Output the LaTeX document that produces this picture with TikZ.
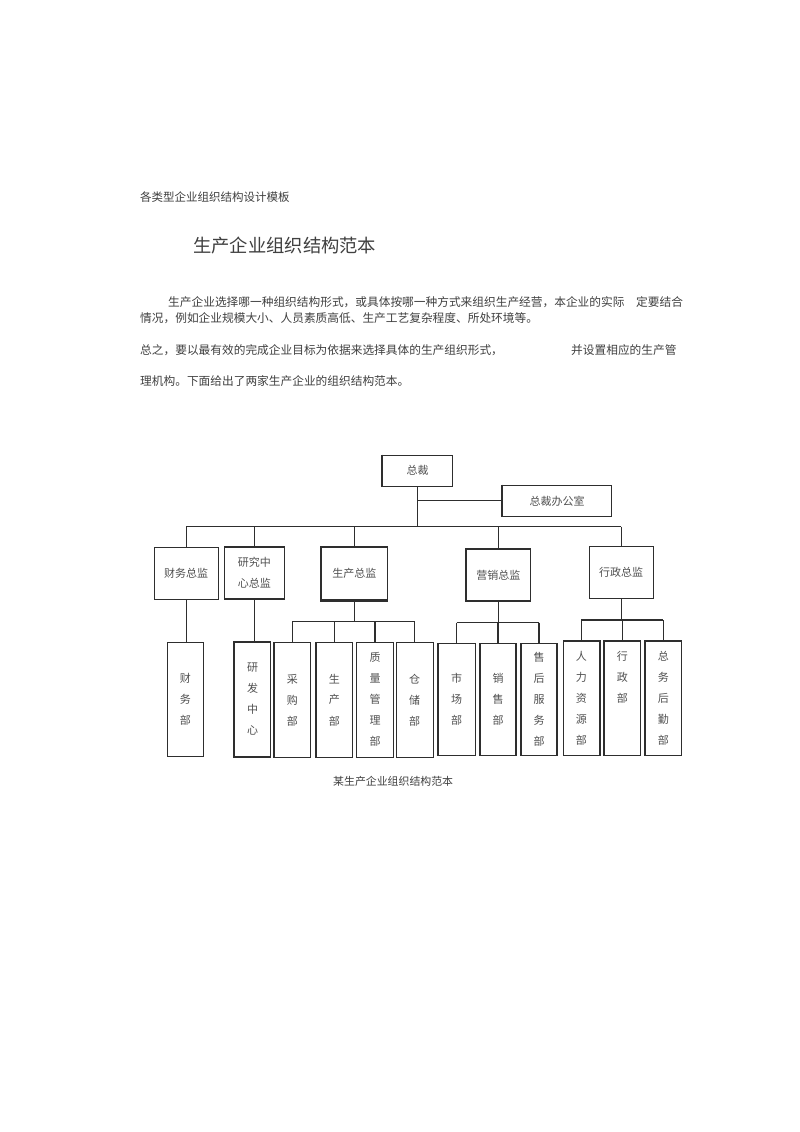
\documentclass[tikz,border=0pt]{standalone}
\usepackage{fontspec}
\newfontfamily\cjk{Noto Sans CJK SC}
\definecolor{linec}{HTML}{2E2E2E}
\definecolor{textc}{HTML}{404040}
\definecolor{boxtextc}{HTML}{505050}
\newcommand\orgfont{\cjk\fontsize{11}{21}\selectfont}
\newcommand\bodyfont{\cjk\fontsize{11.7}{11.7}\selectfont}
\tikzset{
  orgbox/.style={draw=linec, line width=1.1pt, inner sep=0pt, font=\orgfont, text=boxtextc, align=center},
  conn/.style={draw=linec, line width=1.1pt},
  thickedge/.style={draw=linec, line width=2.2pt},
  bodytext/.style={anchor=west, inner sep=0pt, font=\bodyfont, text=textc}
}
\begin{document}
\begin{tikzpicture}[x=1pt, y=-1pt]
\useasboundingbox[fill=white] (0,0) rectangle (800,1132);

% ---- header texts ----
\node[bodytext, font=\cjk\fontsize{11.5}{11.5}\selectfont] (hdr) at (140,197) {各类型企业组织结构设计模板};
\node[bodytext, font=\cjk\fontsize{18.3}{18.3}\selectfont] (title) at (193,246) {生产企业组织结构范本};
\node[bodytext] (p1) at (168,302) {生产企业选择哪一种组织结构形式，或具体按哪一种方式来组织生产经营，本企业的实际　定要结合};
\node[bodytext] (p2) at (140,318) {情况，例如企业规模大小、人员素质高低、生产工艺复杂程度、所处环境等。};
\node[bodytext] (p3a) at (140,350) {总之，要以最有效的完成企业目标为依据来选择具体的生产组织形式，};
\node[bodytext] (p3b) at (571,350) {并设置相应的生产管};
\node[bodytext] (p4) at (140,381) {理机构。下面给出了两家生产企业的组织结构范本。};

% ---- top level ----
\node[orgbox, minimum width=70.4, minimum height=31.3] (zc) at (417.5,470.7) {总裁};
\node[orgbox, minimum width=109, minimum height=31.7] (zb) at (557.2,500.9) {总裁办公室};

% ---- directors ----
\node[orgbox, minimum width=64.3, minimum height=52] (cw) at (186.2,573.3) {财务总监};
\node[orgbox, minimum width=60, minimum height=52] (yj) at (254.3,573) {研究中\\心总监};
\node[orgbox, minimum width=66.7, minimum height=52.3] (sc) at (354.3,573.8) {生产总监};
\node[orgbox, minimum width=64.7, minimum height=52] (yx) at (498.3,575) {营销总监};
\node[orgbox, minimum width=64.3, minimum height=52.3] (xz) at (621.2,572.2) {行政总监};

% ---- departments ----
\node[orgbox, minimum width=36, minimum height=114.4] (cwb) at (185.3,699.5) {财\\务\\部};
\node[orgbox, minimum width=36.4, minimum height=115] (yfb) at (252.5,699.5) {研\\发\\中\\心};
\node[orgbox, minimum width=36.7, minimum height=115] (cg) at (292.3,700.2) {采\\购\\部};
\node[orgbox, minimum width=36.7, minimum height=114.5] (scb) at (334.3,699.8) {生\\产\\部};
\node[orgbox, minimum width=36.6, minimum height=114.5] (zl) at (375,699.8) {质\\量\\管\\理\\部};
\node[orgbox, minimum width=37.3, minimum height=115] (cc) at (414.7,700) {仓\\储\\部};
\node[orgbox, minimum width=36.7, minimum height=112] (sh) at (456.7,699.7) {市\\场\\部};
\node[orgbox, minimum width=36, minimum height=112] (xs) at (498,699.7) {销\\售\\部};
\node[orgbox, minimum width=36, minimum height=112] (sfw) at (539,699.7) {售\\后\\服\\务\\部};
\node[orgbox, minimum width=36, minimum height=114.7] (rl) at (581.3,698.3) {人\\力\\资\\源\\部};
\node[orgbox, minimum width=36.7, minimum height=114.7] (xzb) at (622.3,698.3) {行\\政\\部\\~\\~};
\node[orgbox, minimum width=36.7, minimum height=114.7] (zw) at (663.3,698.3) {总\\务\\后\\勤\\部};

% ---- caption ----
\node[bodytext, font=\cjk\fontsize{10.9}{10.9}\selectfont] (cap) at (333,781) {某生产企业组织结构范本};

% ---- bus coordinates ----
\coordinate (bus) at (0,526.7);
\coordinate (pbus) at (0,621.7);
\coordinate (mbus) at (0,622.7);
\coordinate (abus) at (0,620);

% ---- connectors top ----
\draw[conn] (zc.south) -- (zc.south |- bus);
\draw[conn] (zc.south |- zb.west) -- (zb.west);
\draw[conn] (cw.north |- bus) -- (xz.north |- bus);
\foreach \n in {cw,yj,sc,yx,xz} {
  \draw[conn] (\n.north |- bus) -- (\n.north);
}
% ---- connectors to departments ----
\draw[conn] (cw.south) -- (cw.south |- cwb.north);
\draw[conn] (yj.south) -- (yj.south |- yfb.north);
\draw[conn] (sc.south) -- (sc.south |- pbus);
\draw[conn] (cg.north |- pbus) -- (cc.north |- pbus);
\foreach \n in {cg,scb,zl,cc} {
  \draw[conn] (\n.north |- pbus) -- (\n.north);
}
\draw[conn] (yx.south) -- (yx.south |- mbus);
\draw[conn] (sh.north |- mbus) -- (sfw.north |- mbus);
\foreach \n in {sh,xs,sfw} {
  \draw[conn] (\n.north |- mbus) -- (\n.north);
}
\draw[conn] (xz.south) -- (xz.south |- abus);
\draw[conn] (rl.north |- abus) -- (zw.north |- abus);
\foreach \n in {rl,xzb,zw} {
  \draw[conn] (\n.north |- abus) -- (\n.north);
}

% ---- heavier edges as in the print ----
\draw[thickedge] (zc.north west) -- (zc.south west);
\draw[thickedge] (zb.north west) -- (zb.south west);
\draw[thickedge] (sc.north west) -- (sc.north east);
\draw[thickedge] (sc.south west) -- (sc.south east);
\draw[thickedge] (yfb.north west) -- (yfb.south west);
\draw[thickedge] (sh.north west) -- (sh.south west);
\draw[thickedge] (rl.north east) -- (rl.south east);
\end{tikzpicture}
\end{document}
